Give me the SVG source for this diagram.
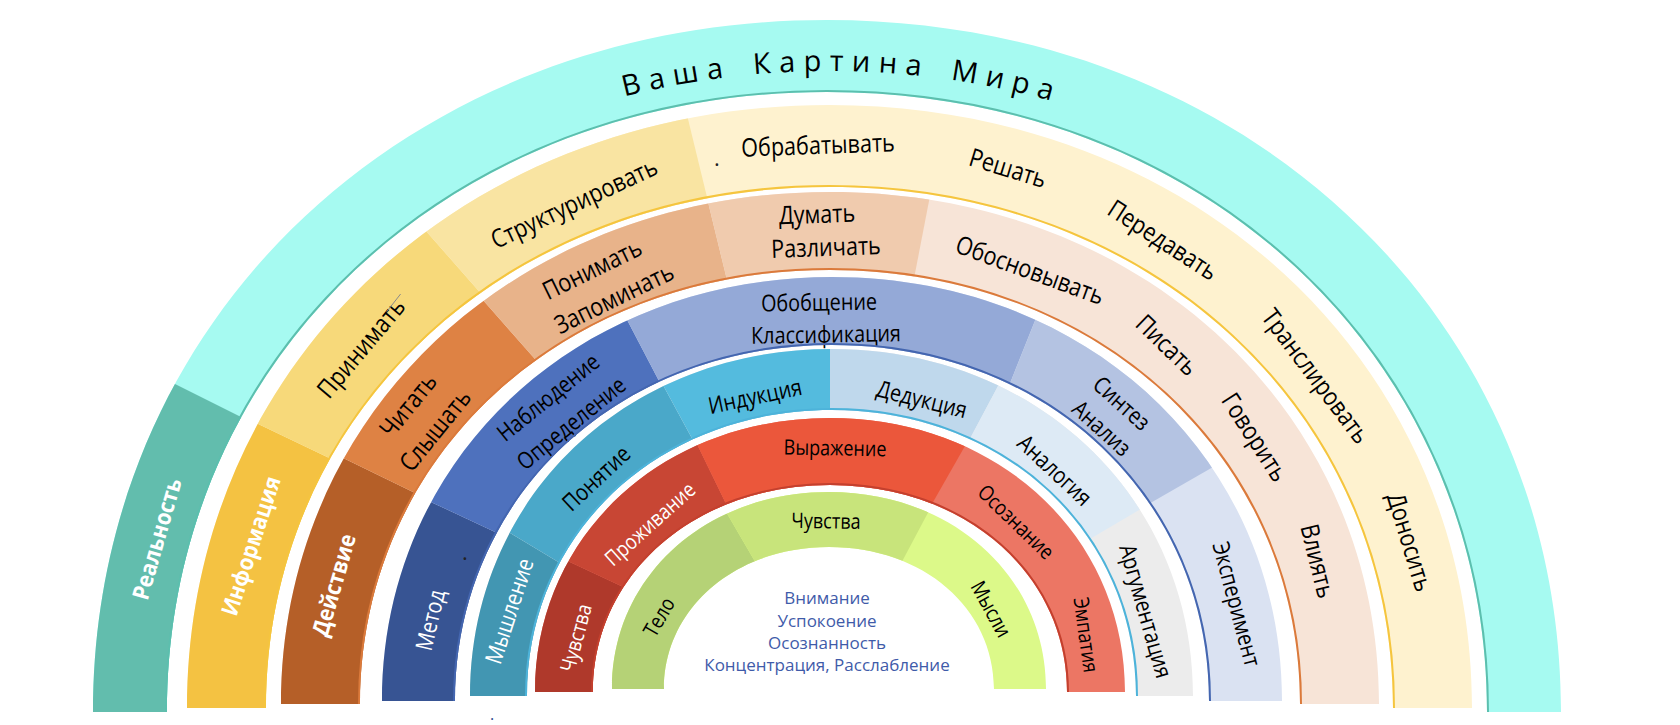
<svg xmlns="http://www.w3.org/2000/svg" width="1680" height="725" viewBox="0 0 1680 725">
<style>
.t{font-family:"Open Sans","Liberation Sans",sans-serif;text-anchor:middle;fill:#000}
.s24{font-size:25.4px}.s22{font-size:23.3px}.s20{font-size:21.2px}
.w{fill:#fff}.b{font-weight:700;font-size:23px}
.title{font-family:"Open Sans","Liberation Sans",sans-serif;font-size:29px;letter-spacing:8.2px;word-spacing:6px;fill:#000}
.ct{font-family:"Open Sans","Liberation Sans",sans-serif;font-size:17px;fill:#3F5BA9;text-anchor:middle}
.acc{fill:none;stroke-width:4}
.dot{font-family:"Open Sans","Liberation Sans",sans-serif;font-size:22px;fill:#222}
</style>
<defs>
<clipPath id="c1"><path d="M93,712 C93,317.6 408.6,20 827,20 C1245.4,20 1561,317.6 1561,712 L1487,712 C1487,358.6 1203.2,92 827,92 C450.8,92 167,358.6 167,712 Z"/></clipPath>
<clipPath id="c2"><path d="M187,708 C187,364.3 463.3,105 829.5,105 C1195.7,105 1472,364.3 1472,708 L1393,708 C1393,411 1150.7,187 829.5,187 C508.3,187 266,411 266,708 Z"/></clipPath>
<clipPath id="c3"><path d="M281,704 C281,412.2 517.1,192 830,192 C1142.9,192 1379,412.2 1379,704 L1300,704 C1300,456.6 1097.9,270 830,270 C562.1,270 360,456.6 360,704 Z"/></clipPath>
<clipPath id="c4"><path d="M382,701 C382,459.3 575.5,277 832,277 C1088.5,277 1282,459.3 1282,701 L1209,701 C1209,498.1 1046.9,345 832,345 C617.1,345 455,498.1 455,701 Z"/></clipPath>
<clipPath id="c5"><path d="M470,696 C470,498.2 625.4,349 831.5,349 C1037.6,349 1193,498.2 1193,696 L1136,696 C1136,533 1005.1,410 831.5,410 C657.9,410 527,533 527,696 Z"/></clipPath>
<clipPath id="c6"><path d="M535,692 C535,535.8 661.8,418 830,418 C998.2,418 1125,535.8 1125,692 L1067,692 C1067,574 965.1,485 830,485 C694.9,485 593,574 593,692 Z"/></clipPath>
<clipPath id="c7"><path d="M612,689 C612,576.7 705.3,492 829,492 C952.7,492 1046,576.7 1046,689 L994,689 C994,608.1 923.1,547 829,547 C734.9,547 664,608.1 664,689 Z"/></clipPath>
<path id="tp" d="M95,712 A735,641 0 0 1 1565,712" fill="none"/>
</defs>
<rect width="1680" height="725" fill="#fff"/>

<g id="ring1">
 <g id="n-kartina">
  <path fill="#A6FAF1" d="M93,712 C93,317.6 408.6,20 827,20 C1245.4,20 1561,317.6 1561,712 L1487,712 C1487,358.6 1203.2,92 827,92 C450.8,92 167,358.6 167,712 Z"/>
  <text class="title"><textPath href="#tp" startOffset="1094" text-anchor="middle">Ваша Картина Мира</textPath></text>
 </g>
 <g id="n-realnost">
  <polygon clip-path="url(#c1)" fill="#62BDAD" points="81,337 305,449 305,725 0,725 0,337"/>
  <text class="t w b" transform="translate(157,539) rotate(-74) scale(0.9,1)" y="8">Реальность</text>
 </g>
 <path class="acc" clip-path="url(#c1)" stroke="#5CBFAE" d="M1487,712 C1487,358.6 1203.2,92 827,92 C450.8,92 167,358.6 167,712"/>
</g>

<g id="ring2">
 <g id="n-donosit">
  <path fill="#FEF2CF" d="M187,708 C187,364.3 463.3,105 829.5,105 C1195.7,105 1472,364.3 1472,708 L1393,708 C1393,411 1150.7,187 829.5,187 C508.3,187 266,411 266,708 Z"/>
  <text class="dot" x="714" y="166">.</text>
  <text class="t s24" transform="translate(818,145) rotate(-2) scale(0.85,1)" y="9">Обрабатывать</text>
  <text class="t s24" transform="translate(1008,168) rotate(17) scale(0.85,1)" y="9">Решать</text>
  <text class="t s24" transform="translate(1163,240) rotate(33) scale(0.85,1)" y="9">Передавать</text>
  <text class="t s24" transform="translate(1316,376) rotate(53) scale(0.85,1)" y="9">Транслировать</text>
  <text class="t s24" transform="translate(1410,542) rotate(73) scale(0.85,1)" y="9">Доносить</text>
 </g>
 <g id="n-informatsiya">
  <polygon clip-path="url(#c2)" fill="#F4C242" points="160,377 394,489 394,725 0,725 0,377"/>
  <text class="t w b" transform="translate(251,546) rotate(-72) scale(0.9,1)" y="8">Информация</text>
 </g>
 <g id="n-prinimat">
  <polygon clip-path="url(#c2)" fill="#F7D97A" points="160,377 353,148 528,347 394,489"/>
  <text class="t s24" transform="translate(361,348) rotate(-50) scale(0.85,1)" y="9">Принимать</text>
  <line x1="400.6" y1="294" x2="386.7" y2="311.7" stroke="#8A8A8A" stroke-width="1"/>
 </g>
 <g id="n-struktur">
  <polygon clip-path="url(#c2)" fill="#F9E4A2" points="353,148 661,8 724,267 528,347"/>
  <text class="t s24" transform="translate(574,203) rotate(-25) scale(0.85,1)" y="9">Структурировать</text>
 </g>
 <path class="acc" clip-path="url(#c2)" stroke="#F5C53E" d="M1393,708 C1393,411 1150.7,187 829.5,187 C508.3,187 266,411 266,708"/>
</g>

<g id="ring3">
 <g id="n-vliyat">
  <path fill="#F7E4D7" d="M281,704 C281,412.2 517.1,192 830,192 C1142.9,192 1379,412.2 1379,704 L1300,704 C1300,456.6 1097.9,270 830,270 C562.1,270 360,456.6 360,704 Z"/>
  <text class="t s24" transform="translate(1030,270) rotate(20) scale(0.85,1)" y="9">Обосновывать</text>
  <text class="t s24" transform="translate(1167,345) rotate(44) scale(0.85,1)" y="9">Писать</text>
  <text class="t s24" transform="translate(1255,437) rotate(57) scale(0.85,1)" y="9">Говорить</text>
  <text class="t s24" transform="translate(1318,561) rotate(76) scale(0.85,1)" y="9">Влиять</text>
 </g>
 <g id="n-deystvie">
  <polygon clip-path="url(#c3)" fill="#B55F28" points="240,408 485,527 485,725 0,725 0,408"/>
  <text class="t w b" transform="translate(334,585) rotate(-74) scale(0.9,1)" y="8">Действие</text>
 </g>
 <g id="n-chitat">
  <polygon clip-path="url(#c3)" fill="#DE8244" points="240,408 408,215 587,418 485,527"/>
  <text class="t s24" transform="translate(408,405) rotate(-51) scale(0.85,1)" y="9">Читать</text>
  <text class="t s24" transform="translate(435,430) rotate(-51) scale(0.85,1)" y="9">Слышать</text>
 </g>
 <g id="n-ponimat">
  <polygon clip-path="url(#c3)" fill="#E8B38A" points="408,215 681,91 744,350 587,418"/>
  <text class="t s24" transform="translate(592,269) rotate(-26) scale(0.85,1)" y="9">Понимать</text>
  <text class="t s24" transform="translate(614,298) rotate(-26) scale(0.85,1)" y="9">Запоминать</text>
 </g>
 <g id="n-dumat">
  <polygon clip-path="url(#c3)" fill="#F0CBAE" points="681,91 952,82 900,351 744,350"/>
  <text class="t s24" transform="translate(817,214) rotate(-2) scale(0.85,1)" y="9">Думать</text>
  <text class="t s24" transform="translate(826,247) rotate(-2) scale(0.85,1)" y="9">Различать</text>
 </g>
 <path class="acc" clip-path="url(#c3)" stroke="#DB7A3B" d="M1300,704 C1300,456.6 1097.9,270 830,270 C562.1,270 360,456.6 360,704"/>
</g>

<g id="ring4">
 <g id="n-eksperiment">
  <path fill="#DAE2F2" d="M382,701 C382,459.3 575.5,277 832,277 C1088.5,277 1282,459.3 1282,701 L1209,701 C1209,498.1 1046.9,345 832,345 C617.1,345 455,498.1 455,701 Z"/>
  <text class="t s22" transform="translate(1237,604) rotate(75) scale(0.85,1)" y="8.5">Эксперимент</text>
 </g>
 <g id="n-metod">
  <polygon clip-path="url(#c4)" fill="#375493" points="335,457 559,562 559,725 0,725 0,457"/>
  <text class="t w s22" transform="translate(430,620) rotate(-77) scale(0.85,1)" y="8.5">Метод</text>
  <text class="dot" x="462" y="560">.</text>
 </g>
 <g id="n-nablyudenie">
  <polygon clip-path="url(#c4)" fill="#4E71BD" points="335,457 578,226 693,446 559,562"/>
  <text class="t s22" transform="translate(548,397) rotate(-39) scale(0.85,1)" y="8.5">Наблюдение</text>
  <text class="t s22" transform="translate(571,423) rotate(-39) scale(0.85,1)" y="8.5">Определение</text>
 </g>
 <g id="n-obobshchenie">
  <polygon clip-path="url(#c4)" fill="#94A9D7" points="578,226 1070,233 989,436 693,446"/>
  <text class="t s22" transform="translate(819,302) rotate(-1) scale(0.85,1)" y="8.5">Обобщение</text>
  <text class="t s22" transform="translate(826,334) rotate(-1) scale(0.85,1)" y="8.5">Классификация</text>
 </g>
 <g id="n-sintez">
  <polygon clip-path="url(#c4)" fill="#B4C3E2" points="1070,233 1300,417 1093,536 989,436"/>
  <text class="t s22" transform="translate(1122,403) rotate(42) scale(0.85,1)" y="8.5">Синтез</text>
  <text class="t s22" transform="translate(1102,428) rotate(42) scale(0.85,1)" y="8.5">Анализ</text>
 </g>
 <path class="acc" clip-path="url(#c4)" stroke="#4466B0" d="M1209,701 C1209,498.1 1046.9,345 832,345 C617.1,345 455,498.1 455,701"/>
</g>

<g id="ring5">
 <g id="n-argumentatsiya">
  <path fill="#ECECEC" d="M470,696 C470,498.2 625.4,349 831.5,349 C1037.6,349 1193,498.2 1193,696 L1136,696 C1136,533 1005.1,410 831.5,410 C657.9,410 527,533 527,696 Z"/>
  <text class="t s22" transform="translate(1146,611) rotate(74) scale(0.85,1)" y="8.5">Аргументация</text>
 </g>
 <g id="n-myshlenie">
  <polygon clip-path="url(#c5)" fill="#4296B2" points="430,485 605,590 605,725 0,725 0,485"/>
  <text class="t w s22" transform="translate(509,611) rotate(-72) scale(0.85,1)" y="8.5">Мышление</text>
 </g>
 <g id="n-ponyatie">
  <polygon clip-path="url(#c5)" fill="#4AA8C9" points="430,485 625,315 720,490 605,590"/>
  <text class="t s22" transform="translate(596,478) rotate(-43) scale(0.85,1)" y="8.5">Понятие</text>
 </g>
 <g id="n-induktsiya">
  <polygon clip-path="url(#c5)" fill="#54BBDE" points="625,315 830,258 830,471 720,490"/>
  <text class="t s22" transform="translate(755,396) rotate(-12) scale(0.85,1)" y="8.5">Индукция</text>
 </g>
 <g id="n-deduktsiya">
  <polygon clip-path="url(#c5)" fill="#BFD8EC" points="830,258 1031,324 947,482 830,471"/>
  <text class="t s22" transform="translate(922,399) rotate(14) scale(0.85,1)" y="8.5">Дедукция</text>
 </g>
 <g id="n-analogiya">
  <polygon clip-path="url(#c5)" fill="#DDEAF5" points="1031,324 1197,476 1054,560 947,482"/>
  <text class="t s22" transform="translate(1055,470) rotate(43) scale(0.85,1)" y="8.5">Аналогия</text>
 </g>
 <path class="acc" clip-path="url(#c5)" stroke="#4DB3DA" d="M1136,696 C1136,533 1005.1,410 831.5,410 C657.9,410 527,533 527,696"/>
</g>

<g id="ring6">
 <g id="n-osoznanie">
  <path fill="#EC7664" d="M535,692 C535,535.8 661.8,418 830,418 C998.2,418 1125,535.8 1125,692 L1067,692 C1067,574 965.1,485 830,485 C694.9,485 593,574 593,692 Z"/>
  <text class="t s20" transform="translate(1016,522) rotate(44) scale(0.85,1)" y="7.4">Осознание</text>
  <text class="t s20" transform="translate(1086,635) rotate(82) scale(0.85,1)" y="7.4">Эмпатия</text>
 </g>
 <g id="n-chuvstva-red">
  <polygon clip-path="url(#c6)" fill="#AF392B" points="478,519 681,614 681,725 0,725 0,519"/>
  <text class="t w s20" transform="translate(576,638) rotate(-75) scale(0.85,1)" y="7.4">Чувства</text>
 </g>
 <g id="n-prozhivanie">
  <polygon clip-path="url(#c6)" fill="#C84634" points="478,519 660,368 747,547 681,614"/>
  <text class="t w s20" transform="translate(650,524) rotate(-42) scale(0.85,1)" y="7.4">Проживание</text>
 </g>
 <g id="n-vyrazhenie">
  <polygon clip-path="url(#c6)" fill="#EB573B" points="660,368 1006,374 908,546 747,547"/>
  <text class="t s20" transform="translate(835,448) rotate(1) scale(0.85,1)" y="7.4">Выражение</text>
 </g>
 <path class="acc" clip-path="url(#c6)" stroke="#C4402E" d="M1067,692 C1067,574 965.1,485 830,485 C694.9,485 593,574 593,692"/>
</g>

<g id="ring7">
 <g id="n-mysli">
  <path fill="#DCF989" d="M612,689 C612,576.7 705.3,492 829,492 C952.7,492 1046,576.7 1046,689 L994,689 C994,608.1 923.1,547 829,547 C734.9,547 664,608.1 664,689 Z"/>
  <text class="t s20" transform="translate(991,609) rotate(61) scale(0.85,1)" y="7.4">Мысли</text>
 </g>
 <g id="n-telo">
  <polygon clip-path="url(#c7)" fill="#B5D276" points="690,450 778,601 778,725 0,725 0,450"/>
  <text class="t s20" transform="translate(659,617) rotate(-60) scale(0.85,1)" y="7.4">Тело</text>
 </g>
 <g id="n-chuvstva-green">
  <polygon clip-path="url(#c7)" fill="#C8E47B" points="690,450 964,445 880,603 778,601"/>
  <text class="t s20" transform="translate(826,521) rotate(1) scale(0.85,1)" y="7.4">Чувства</text>
 </g>
</g>

<g id="n-center">
 <text class="ct" x="827" y="604">Внимание</text>
 <text class="ct" x="827" y="627">Успокоение</text>
 <text class="ct" x="827" y="649">Осознанность</text>
 <text class="ct" x="827" y="671">Концентрация, Расслабление</text>
</g>
<text class="dot" x="490" y="720" style="fill:#2E4A8C;font-size:16px">.</text>
<g id="connectors"/>
</svg>
